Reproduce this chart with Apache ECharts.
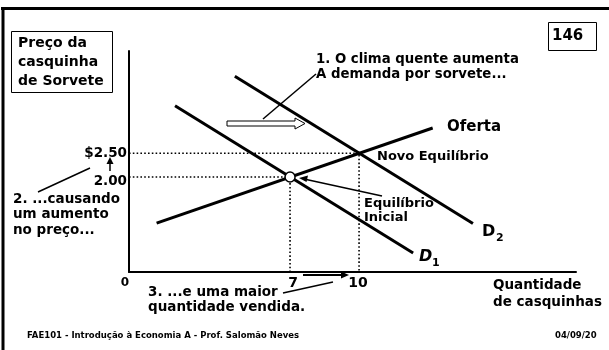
<!DOCTYPE html>
<html>
<head>
<meta charset="utf-8">
<script src="https://cdn.jsdelivr.net/npm/echarts@6/dist/echarts.min.js"></script>
<style>
  html, body { margin: 0; padding: 0; background: #fff; }
  #chart-container { width: 609px; height: 350px; }
</style>
</head>
<body>
<div id="chart-container"></div>
<script>
// curves: [quantity, price] end points
const oferta = [[1.2, 1.03], [13.2, 3.03]];
const demanda1 = [[2.0, 3.5], [12.35, 0.4]];
const demanda2 = [[4.6, 4.12], [14.95, 1.02]];
const equilibrioInicial = [7, 2.0];
const novoEquilibrio = [10, 2.5];
const xTicks = ['0', '7', '10'];
const yTicks = ['$2.50', '2.00'];

const FONT = '"DejaVu Sans", Verdana, sans-serif';
const bold = (s) => 'bold ' + s + 'px ' + FONT;

var dom = document.getElementById("chart-container");
var myChart = echarts.init(dom, null, { renderer: "canvas" });
var option;

// y = centre of the first line
function txt(text, x, y, size, opts) {
  opts = opts || {};
  const lh = opts.lh || size + 2;
  const n = text.split('\n').length;
  return {
    type: 'text',
    z: 10,
    style: {
      text: text, x: x, y: y + (n - 1) * lh / 2,
      font: (opts.italic ? 'italic ' : '') + bold(size),
      fill: '#000',
      textAlign: opts.align || 'left', align: opts.align || 'left',
      textVerticalAlign: 'middle', verticalAlign: 'middle',
      lineHeight: lh
    }
  };
}
function seg(x1, y1, x2, y2, w) {
  return { type: 'line', z: 10, shape: { x1: x1, y1: y1, x2: x2, y2: y2 },
    style: { stroke: '#000', lineWidth: w || 1.5 } };
}
function head(points) {
  return { type: 'polygon', z: 10, shape: { points: points }, style: { fill: '#000' } };
}

const dotted = { color: '#000', width: 1.6, type: [1.6, 2.2] };
const solid = { color: '#000', width: 3 };

option = {
  animation: false,
  backgroundColor: '#fff',
  grid: { left: 129, top: 51, right: 33, bottom: 78 },
  xAxis: {
    type: 'value', min: 0, max: 19.43,
    axisLine: { show: true, onZero: false, lineStyle: { color: '#000', width: 2 } },
    axisTick: { show: false }, axisLabel: { show: false }, splitLine: { show: false }
  },
  yAxis: {
    type: 'value', min: 0, max: 4.65,
    axisLine: { show: true, onZero: false, lineStyle: { color: '#000', width: 2 } },
    axisTick: { show: false }, axisLabel: { show: false }, splitLine: { show: false }
  },
  series: [
    { type: 'line', data: [[0, novoEquilibrio[1]], novoEquilibrio, [novoEquilibrio[0], 0]],
      symbol: 'none', lineStyle: dotted },
    { type: 'line', data: [[0, equilibrioInicial[1]], equilibrioInicial, [equilibrioInicial[0], 0]],
      symbol: 'none', lineStyle: dotted },
    { type: 'line', name: 'Oferta', data: oferta, symbol: 'none', lineStyle: solid },
    { type: 'line', name: 'D1', data: demanda1, symbol: 'none', lineStyle: solid },
    { type: 'line', name: 'D2', data: demanda2, symbol: 'none', lineStyle: solid },
    { type: 'scatter', data: [equilibrioInicial], symbolSize: 10, z: 5,
      itemStyle: { color: '#fff', borderColor: '#000', borderWidth: 1.5, opacity: 1 } }
  ],
  graphic: [
    // frame
    seg(1, 8.5, 609, 8.5, 3),
    seg(3, 7, 3, 350, 3),
    // boxes
    { type: 'rect', shape: { x: 11.5, y: 31.5, width: 101, height: 61 },
      style: { fill: 'none', stroke: '#000', lineWidth: 1 } },
    { type: 'rect', shape: { x: 548.5, y: 22.5, width: 48, height: 28 },
      style: { fill: 'none', stroke: '#000', lineWidth: 1 } },
    txt('Preço da\ncasquinha\nde Sorvete', 18, 43, 14, { lh: 19 }),
    txt('146', 552, 36, 15),
    txt('1. O clima quente aumenta\nA demanda por sorvete...', 316, 60, 13.3, { lh: 15 }),
    seg(263, 119, 316, 74, 1.5),
    // hollow shift arrow
    { type: 'polygon', z: 10,
      shape: { points: [[227, 121], [295, 121], [295, 118], [305, 123.5], [295, 129], [295, 126], [227, 126]] },
      style: { fill: '#fff', stroke: '#000', lineWidth: 1 } },
    txt('Oferta', 447, 127, 15),
    txt('Novo Equilíbrio', 377, 157, 13),
    txt(yTicks[0], 127, 153, 13.5, { align: 'right' }),
    txt(yTicks[1], 127, 181, 13.5, { align: 'right' }),
    seg(110, 171, 110, 162, 1.5),
    head([[110, 157], [106.5, 164], [113.5, 164]]),
    seg(38, 192, 90, 168, 1.5),
    txt('2. ...causando\num aumento\nno preço...', 13, 199, 13.5, { lh: 15.5 }),
    txt('Equilíbrio\nInicial', 364, 204, 13, { lh: 14 }),
    seg(382, 196, 304, 179, 1.5),
    head([[299, 178], [308, 175.5], [306.5, 182]]),
    txt('D', 482, 232, 16),
    txt('2', 496, 238, 11),
    txt('D', 419, 257, 16, { italic: true }),
    txt('1', 432, 263, 11),
    txt(xTicks[0], 125, 283, 12, { align: 'center' }),
    txt(xTicks[1], 293, 283, 14, { align: 'center' }),
    txt(xTicks[2], 358, 283, 14, { align: 'center' }),
    seg(303, 275, 342, 275, 2),
    head([[349, 275], [341, 271.5], [341, 278.5]]),
    seg(283, 293, 333, 282, 1.5),
    txt('3. ...e uma maior\nquantidade vendida.', 148, 292, 13.5, { lh: 15 }),
    txt('Quantidade\nde casquinhas', 493, 285, 13.5, { lh: 17 }),
    txt('FAE101 - Introdução à Economia A - Prof. Salomão Neves', 27, 336, 8.5),
    txt('04/09/20', 555, 336, 8.5)
  ]
};

if (option && typeof option === "object") {
  myChart.setOption(option);
}

window.addEventListener("resize", myChart.resize);
</script>
</body>
</html>
